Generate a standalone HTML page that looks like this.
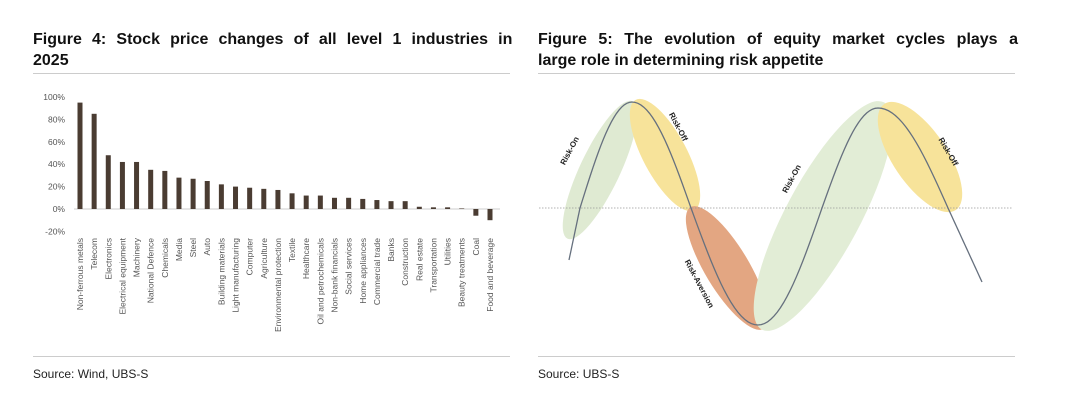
<!DOCTYPE html>
<html><head><meta charset="utf-8"><style>
body{margin:0;background:#fff;width:1080px;height:414px;overflow:hidden;font-family:"Liberation Sans",sans-serif}
svg{position:absolute;left:0;top:0}
</style></head><body>
<svg width="1080" height="414">
<text x="33" y="44" font-size="16" font-weight="bold" fill="#111" word-spacing="5.7">Figure 4: Stock price changes of all level 1 industries in</text>
<text x="33" y="65" font-size="16" font-weight="bold" fill="#111">2025</text>
<line x1="33" y1="73.5" x2="510" y2="73.5" stroke="#ccc"/>
<line x1="33" y1="356.5" x2="510" y2="356.5" stroke="#ccc"/>
<text x="33" y="378" font-size="12" fill="#222">Source: Wind, UBS-S</text>
<text x="538" y="44" font-size="16" font-weight="bold" fill="#111" word-spacing="7.1">Figure 5: The evolution of equity market cycles plays a</text>
<text x="538" y="65" font-size="16" font-weight="bold" fill="#111">large role in determining risk appetite</text>
<line x1="538" y1="73.5" x2="1015" y2="73.5" stroke="#ccc"/>
<line x1="538" y1="356.5" x2="1015" y2="356.5" stroke="#ccc"/>
<text x="538" y="378" font-size="12" fill="#222">Source: UBS-S</text>
<g id="bars"></g>
<g id="cycle"></g>
</svg>
<script>
const categories=["Non-ferrous metals","Telecom","Electronics","Electrical equipment","Machinery","National Defence","Chemicals","Media","Steel","Auto","Building materials","Light manufacturing","Computer","Agriculture","Environmental protection","Textile","Healthcare","Oil and petrochemicals","Non-bank financials","Social services","Home appliances","Commercial trade","Banks","Construction","Real estate","Transportation","Utilities","Beauty treatments","Coal","Food and beverage"];
const values=[95,85,48,42,42,35,34,28,27,25,22,20,19,18,17,14,12,12,10,10,9,8,7,7,2,1.5,1.5,0.5,-6,-10];
const ticks=[100,80,60,40,20,0,-20];
const tickLabels=["100%","80%","60%","40%","20%","0%","-20%"];
const curveX=[569,580,632,691,758,822,878,948,982];
const curveY=[260,208,102,208,325,208,108,208,282];
const phases=["Risk-On","Risk-Off","Risk-Aversion","Risk-On","Risk-Off"];

const NS="http://www.w3.org/2000/svg";
function mk(t,a,p){const e=document.createElementNS(NS,t);for(const k in a)e.setAttribute(k,a[k]);p.appendChild(e);return e;}
const g=document.getElementById('bars');
const y=v=>209-v*1.12;
const x=i=>80+i*(410/(categories.length-1));
ticks.forEach((t,i)=>{const e=mk('text',{x:65,y:y(t)+3,'font-size':8.5,fill:'#555','text-anchor':'end'},g);e.textContent=tickLabels[i];

});
const ax=mk('line',{x1:74,x2:500,y1:209,y2:209,stroke:'#ccc'},g);


values.forEach((v,i)=>{const r=mk('rect',{x:x(i)-2.5,width:5,y:Math.min(y(v),y(0)),height:Math.abs(y(v)-y(0)),fill:'#4a3c32'},g);


const l=mk('text',{x:0,y:0,'font-size':8.5,fill:'#555','text-anchor':'end',transform:`translate(${x(i)+3},238) rotate(-90)`},g);l.textContent=categories[i];

});

const c=document.getElementById('cycle');
const ells=[[600,170,152,40,-64.6,'#dfead2'],[665,155,125,44,62,'#f7e39a'],[727,268,142,44,59,'#e3a682'],[823,216,258,74,-61.7,'#e2edd6'],[920,157,128,54,56,'#f7e39a']];
ells.forEach((e,i)=>{const el=mk('ellipse',{cx:e[0],cy:e[1],rx:e[2]/2,ry:e[3]/2,fill:e[5],transform:`rotate(${e[4]} ${e[0]} ${e[1]})`},c);

});
const zl=mk('line',{x1:539,x2:1013,y1:208,y2:208,stroke:'#999','stroke-dasharray':'1.5 1.5','stroke-width':0.8},c);


const Z=208;
let d=`M${curveX[0]},${curveY[0]}`;
for(let i=0;i<curveX.length-1;i++){
  const x0=curveX[i],x1=curveX[i+1],y0=curveY[i],y1=curveY[i+1];
  for(let s=1;s<=20;s++){const t=s/20;let yy;
    if(y0===Z&&y1!==Z&&i<curveX.length-2) yy=Z+(y1-Z)*Math.sin(Math.PI/2*t);
    else if(y1===Z&&i>0) yy=y0+(Z-y0)*(1-Math.cos(Math.PI/2*t));
    else yy=y0+(y1-y0)*t;
    d+=` L${(x0+(x1-x0)*t).toFixed(2)},${yy.toFixed(2)}`;}
}
const pth=mk('path',{d:d,fill:'none',stroke:'#66707e','stroke-width':1.3},c);


const lp=[[572,152,-62],[676,128,62],[697,285,62],[794,180,-62],[946,153,60]];
phases.forEach((p,i)=>{const t=mk('text',{x:0,y:0,'font-size':8,'font-weight':'bold',fill:'#222','text-anchor':'middle',transform:`translate(${lp[i][0]},${lp[i][1]}) rotate(${lp[i][2]})`},c);t.textContent=p;

});
</script>
</body></html>
